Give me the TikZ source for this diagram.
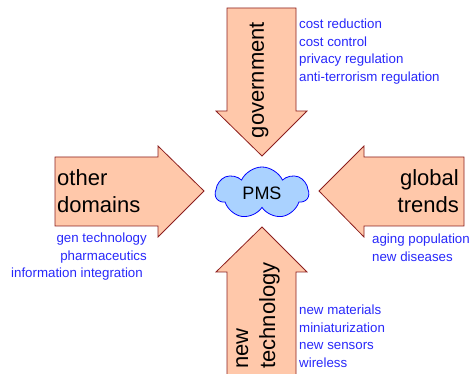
\documentclass[tikz,border=0pt]{standalone}
\usepackage{fontspec}
\setmainfont{Liberation Sans}
\usetikzlibrary{shapes.symbols}
\definecolor{arrowfill}{RGB}{255,200,170}
\definecolor{arrowline}{RGB}{140,30,30}
\definecolor{cloudfill}{RGB}{170,210,255}
\definecolor{listblue}{RGB}{40,40,250}
\begin{document}
\begin{tikzpicture}[x=1pt,y=-1pt,
 bigarrow/.style={fill=arrowfill,draw=arrowline,line width=0.8pt,line join=miter},
 bigtext/.style={font=\fontsize{22}{27}\selectfont,inner sep=0pt},
 listtext/.style={font=\fontsize{13.3}{17.5}\selectfont,text=listblue,inner sep=0pt}]
\useasboundingbox (0,0) rectangle (469,374);
\begin{scope}
\clip (0,0) rectangle (469,374);
\draw[bigarrow] (227,8) -- (296,8) -- (296,111) -- (307,111) -- (262,156) -- (216,111) -- (227,111) -- cycle;
\draw[bigarrow] (55,157) -- (158,157) -- (158,146) -- (204,191) -- (158,237) -- (158,226) -- (55,226) -- cycle;
\draw[bigarrow] (464,157) -- (364,157) -- (364,146) -- (319,191) -- (364,237) -- (364,226) -- (464,226) -- cycle;
\draw[bigarrow] (227,380) -- (227,272) -- (216,272) -- (262,227) -- (307,272) -- (296,272) -- (296,380) -- cycle;
\end{scope}
\node[bigtext,rotate=90] (gov) at (259,80) {government};
\node[bigtext,align=left,anchor=west] (other) at (57,191) {other\\domains};
\node[bigtext,align=right,anchor=east] (global) at (459,191) {global\\trends};
\node[bigtext,align=left,rotate=90,anchor=west] (newtech) at (258,369) {new\\technology};
\begin{scope}[y=1pt]
\node[cloud,cloud puffs=7,cloud puff arc=130,cloud ignores aspect,draw=blue,line width=0.8pt,fill=cloudfill,
  minimum width=93pt,minimum height=52pt,inner sep=0pt,font=\fontsize{18}{21}\selectfont] (pms) at (262,-193) {PMS};
\end{scope}
\node[listtext,align=left,anchor=north west] (govlist) at (299,19)
  {cost reduction\\cost control\\privacy regulation\\anti-terrorism regulation};
\node[listtext,align=right,anchor=north east] (otherlist) at (147,233)
  {gen technology\\pharmaceutics\\information integration\hspace*{4pt}};
\node[listtext,align=left,anchor=north west] (globallist) at (372,234)
  {aging population\\new diseases};
\node[listtext,align=left,anchor=north west] (techlist) at (299,305)
  {new materials\\miniaturization\\new sensors\\wireless};
\end{tikzpicture}
\end{document}
